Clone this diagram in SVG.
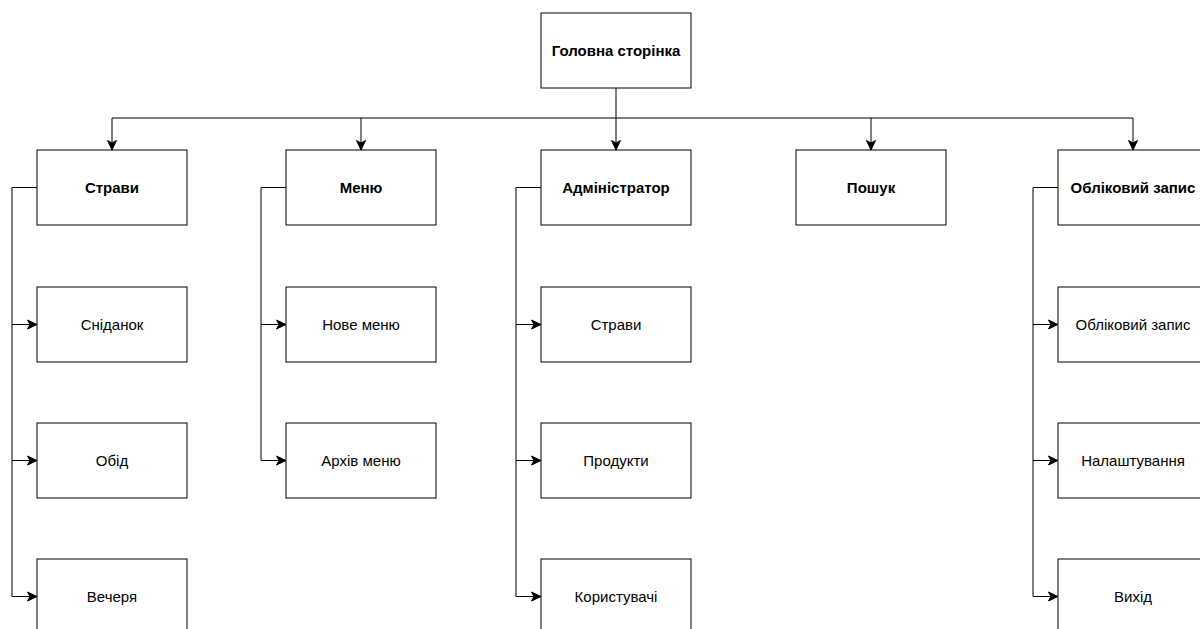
<svg xmlns="http://www.w3.org/2000/svg" width="1200" height="629" viewBox="0 0 1200 629">
<style>
.box{fill:#fff;stroke:#000;stroke-width:1}
.e{fill:none;stroke:#000;stroke-width:1}
text{font-family:"Liberation Sans",Arial,sans-serif;font-size:15px;fill:#000;text-anchor:middle;dominant-baseline:central}
.b{font-weight:bold}
</style>
<defs>
<marker id="ar" markerUnits="userSpaceOnUse" markerWidth="14" markerHeight="14" viewBox="0 0 14 14" refX="11" refY="7" orient="auto">
<path d="M1.5,2.5 L11,7 L1.5,11.5 L4,7 Z" fill="#000" stroke="#000" stroke-width="1"/>
</marker>
</defs>
<rect width="1200" height="629" fill="#fff"/>
<g id="connectors">
<path class="e" marker-end="url(#ar)" d="M616,88 V150"/>
<path class="e" d="M112,118 H1133"/>
<path class="e" marker-end="url(#ar)" d="M112,118 V150"/>
<path class="e" marker-end="url(#ar)" d="M361,118 V150"/>
<path class="e" marker-end="url(#ar)" d="M871,118 V150"/>
<path class="e" marker-end="url(#ar)" d="M1133,118 V150"/>
<path class="e" marker-end="url(#ar)" d="M37,187.5 H12 V596.5 H37"/>
<path class="e" marker-end="url(#ar)" d="M12,324.5 H37"/>
<path class="e" marker-end="url(#ar)" d="M12,460.5 H37"/>
<path class="e" marker-end="url(#ar)" d="M286,187.5 H261 V460.5 H286"/>
<path class="e" marker-end="url(#ar)" d="M261,324.5 H286"/>
<path class="e" marker-end="url(#ar)" d="M541,187.5 H516 V596.5 H541"/>
<path class="e" marker-end="url(#ar)" d="M516,324.5 H541"/>
<path class="e" marker-end="url(#ar)" d="M516,460.5 H541"/>
<path class="e" marker-end="url(#ar)" d="M1058,187.5 H1033 V596.5 H1058"/>
<path class="e" marker-end="url(#ar)" d="M1033,324.5 H1058"/>
<path class="e" marker-end="url(#ar)" d="M1033,460.5 H1058"/>
</g>
<g id="home"><rect class="box" x="541" y="13" width="150" height="75"/><text class="b" x="616" y="50.5">Головна сторінка</text></g>
<g id="dishes"><rect class="box" x="37" y="150" width="150" height="75"/><text class="b" x="112" y="187.5">Страви</text></g>
<g id="menu"><rect class="box" x="286" y="150" width="150" height="75"/><text class="b" x="361" y="187.5">Меню</text></g>
<g id="admin"><rect class="box" x="541" y="150" width="150" height="75"/><text class="b" x="616" y="187.5">Адміністратор</text></g>
<g id="search"><rect class="box" x="796" y="150" width="150" height="75"/><text class="b" x="871" y="187.5">Пошук</text></g>
<g id="account"><rect class="box" x="1058" y="150" width="150" height="75"/><text class="b" x="1133" y="187.5">Обліковий запис</text></g>
<g id="breakfast"><rect class="box" x="37" y="287" width="150" height="75"/><text x="112" y="324.5">Сніданок</text></g>
<g id="lunch"><rect class="box" x="37" y="423" width="150" height="75"/><text x="112" y="460.5">Обід</text></g>
<g id="dinner"><rect class="box" x="37" y="559" width="150" height="75"/><text x="112" y="596.5">Вечеря</text></g>
<g id="newmenu"><rect class="box" x="286" y="287" width="150" height="75"/><text x="361" y="324.5">Нове меню</text></g>
<g id="archive"><rect class="box" x="286" y="423" width="150" height="75"/><text x="361" y="460.5">Архів меню</text></g>
<g id="admindishes"><rect class="box" x="541" y="287" width="150" height="75"/><text x="616" y="324.5">Страви</text></g>
<g id="products"><rect class="box" x="541" y="423" width="150" height="75"/><text x="616" y="460.5">Продукти</text></g>
<g id="users"><rect class="box" x="541" y="559" width="150" height="75"/><text x="616" y="596.5">Користувачі</text></g>
<g id="account2"><rect class="box" x="1058" y="287" width="150" height="75"/><text x="1133" y="324.5">Обліковий запис</text></g>
<g id="settings"><rect class="box" x="1058" y="423" width="150" height="75"/><text x="1133" y="460.5">Налаштування</text></g>
<g id="exit"><rect class="box" x="1058" y="559" width="150" height="75"/><text x="1133" y="596.5">Вихід</text></g>
</svg>
